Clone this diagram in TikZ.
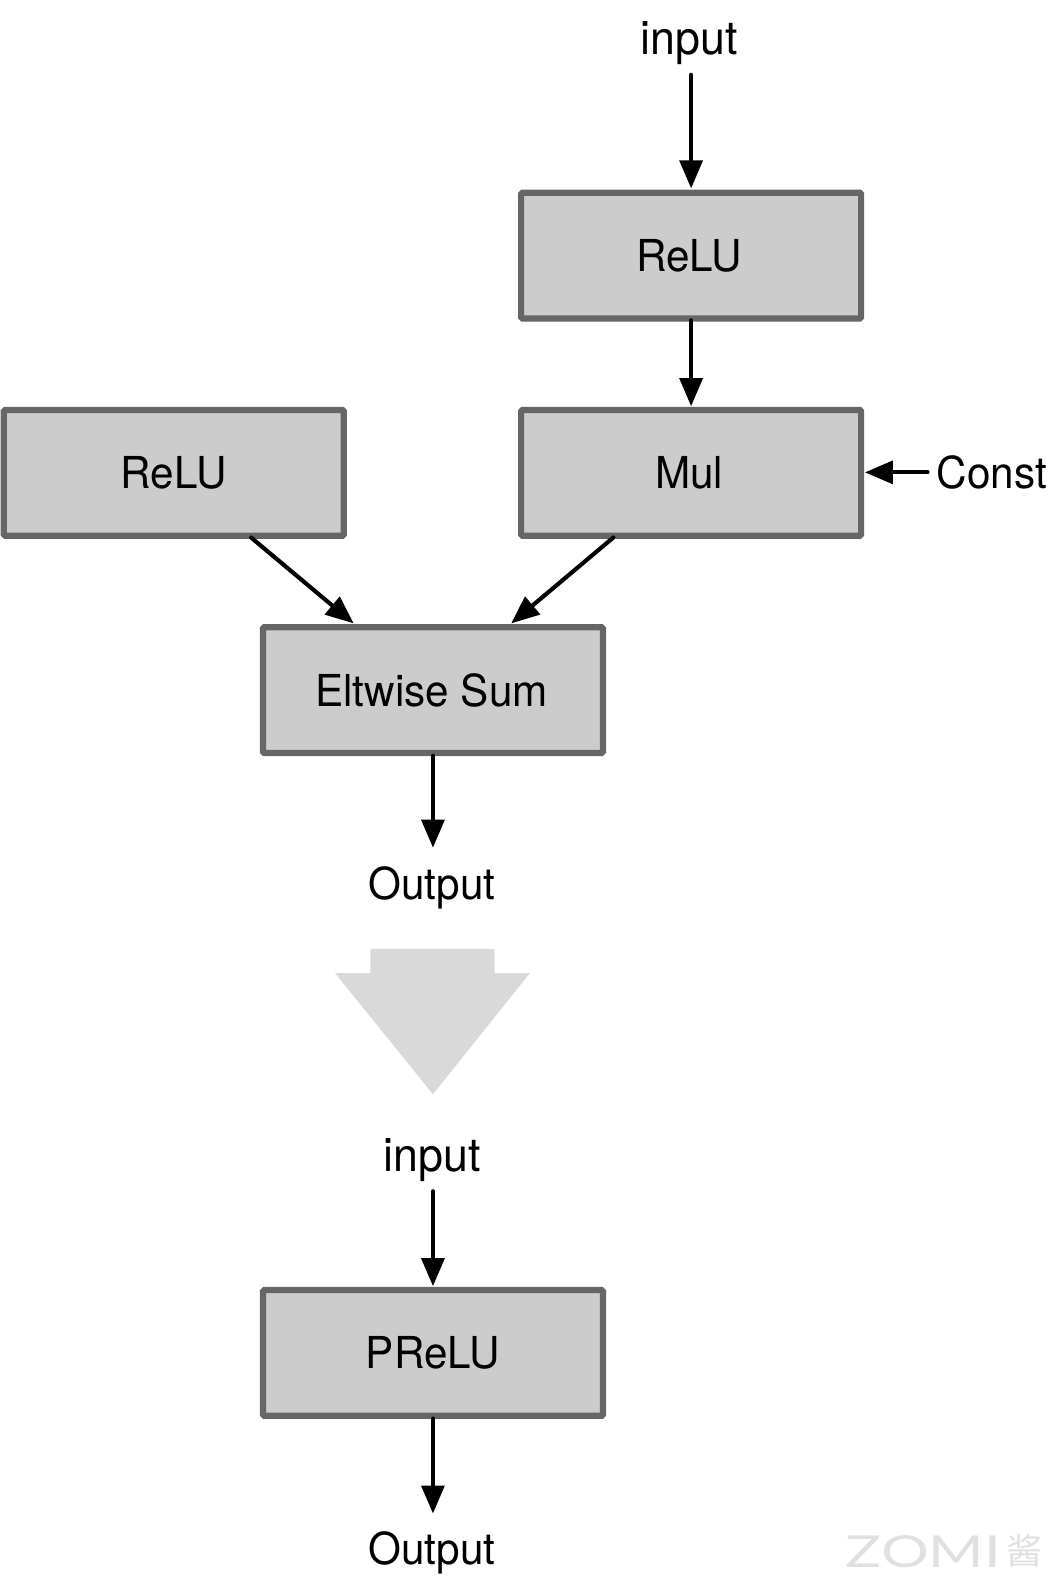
\documentclass[tikz,border=0pt]{standalone}
\usepackage{fontspec}
\setmainfont[FakeStretch=0.96]{TeX Gyre Heros}
\newfontfamily\cjkfont{Noto Sans CJK SC}
\newfontfamily\wmfont[FakeStretch=1.36]{Lato}
\usetikzlibrary{arrows.meta}
\definecolor{boxfill}{HTML}{CCCCCC}
\definecolor{boxline}{HTML}{666666}
\definecolor{bigarrow}{HTML}{D9D9D9}
\definecolor{wm}{HTML}{E0E0E0}
\tikzset{
  opbox/.style={draw=boxline,fill=boxfill,line width=4.6pt,rounded corners=1pt,
    minimum width=255pt,minimum height=94.3pt,inner sep=0pt,outer sep=0pt,font=\lbl,text=black},
  lbl/.style={font=\lbl,inner sep=0pt,text=black},
  flow/.style={draw=black,line width=3.1pt,line cap=round,-{Triangle[length=21pt,width=17pt]}}
}
\newcommand{\lbl}{\fontsize{33}{36}\selectfont}
\begin{document}
\begin{tikzpicture}[x=0.7578pt,y=-0.7578pt]
\useasboundingbox (0,0) rectangle (1047.1,1568.7);
\node[lbl] (in1) at (682.5,42.5) {\fontsize{35}{36}\selectfont input};
\node[opbox] (relu1) at (684,253) {\hspace*{-3pt}ReLU};
\node[opbox] (mul) at (684,468) {\hspace*{-3pt}Mul};
\node[opbox] (relu2) at (172,468) {ReLU};
\node[lbl] (const) at (981.5,467.5) {Const};
\node[opbox] (sum) at (428.5,683) {\hspace*{-2pt}Eltwise Sum};
\node[lbl] (out1) at (427.5,879) {Output};
\node[lbl] (in2) at (428,1148) {\fontsize{35}{36}\selectfont input};
\node[opbox] (prelu) at (428.5,1339) {PReLU};
\node[lbl] (out2) at (427.5,1537) {Output};
\coordinate (a1) at (684,74);
\coordinate (a2) at (684,186.5);
\coordinate (b1) at (684,317);
\coordinate (b2) at (684,402);
\coordinate (c1) at (248.5,532);
\coordinate (c2) at (350,617);
\coordinate (d1) at (607,532);
\coordinate (d2) at (506,617);
\coordinate (e1) at (918,467.5);
\coordinate (e2) at (856,467.5);
\coordinate (f1) at (428.5,748);
\coordinate (f2) at (428.5,839);
\coordinate (g1) at (428.5,1179);
\coordinate (g2) at (428.5,1273);
\coordinate (h1) at (428.5,1404);
\coordinate (h2) at (428.5,1498);
\foreach \s/\t in {a1/a2,b1/b2,c1/c2,d1/d2,e1/e2,f1/f2,g1/g2,h1/h2}
  \draw[flow] (\s) -- (\t);
\fill[bigarrow] (366.5,939) -- (489.5,939) -- (489.5,963) -- (524.5,963) -- (428.5,1083) -- (331.5,963) -- (366.5,963) -- cycle;
\node[inner sep=0pt,text=wm,anchor=west] (wmark) at (837,1536)
  {\fontsize{33}{36}\selectfont\wmfont ZOMI};
\node[inner sep=0pt,text=wm,anchor=west] (wmchar) at (996,1535)
  {\fontsize{27}{30}\selectfont\cjkfont 酱};
\end{tikzpicture}
\end{document}
